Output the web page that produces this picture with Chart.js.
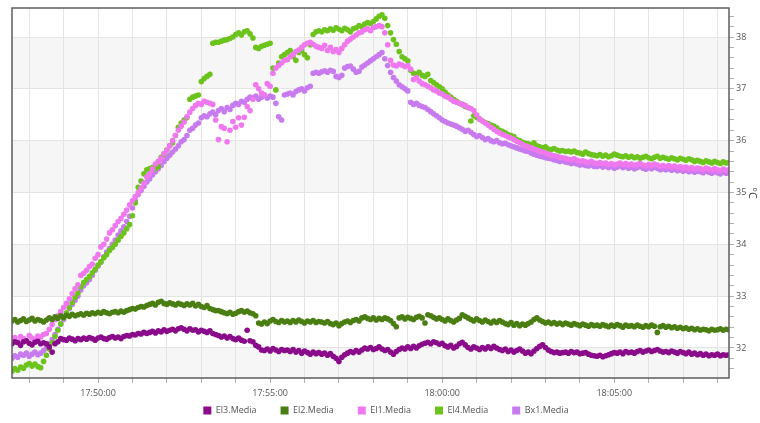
<!DOCTYPE html>
<html>
<head>
<meta charset="utf-8">
<title>Media temperature</title>
<script src="https://cdn.jsdelivr.net/npm/chart.js@4/dist/chart.umd.min.js"></script>
<style>
  html, body { margin: 0; padding: 0; background: #ffffff; }
  canvas { display: block; }
</style>
</head>
<body>
<canvas id="chart" width="760" height="423"></canvas>
<script>
// Series, one reading every 5 seconds starting at firstSample
const seriesNames = ['El3.Media', 'El2.Media', 'El1.Media', 'El4.Media', 'Bx1.Media'];
const firstSample = '17:47:30';
const sampleSeconds = 5;
const xTickLabels = ['17:50:00', '17:55:00', '18:00:00', '18:05:00'];
const yTickLabels = [32, 33, 34, 35, 36, 37, 38];

// one row per minute
const el3Media = [
  32.08, 32.12, 32.10, 32.05, 32.12, 32.14, 32.09, 32.06, 32.11, 32.13, 32.08, 32.10,
  32.08, 32.02, 31.92, 32.08, 32.12, 32.18, 32.16, 32.15, 32.19, 32.17, 32.14, 32.18,
  32.16, 32.19, 32.17, 32.20, 32.18, 32.15, 32.19, 32.21, 32.18, 32.17, 32.20, 32.22,
  32.19, 32.21, 32.18, 32.22, 32.24, 32.23, 32.26, 32.25, 32.28, 32.27, 32.30, 32.28,
  32.30, 32.32, 32.29, 32.33, 32.31, 32.35, 32.32, 32.34, 32.36, 32.33, 32.37, 32.39,
  32.36, 32.33, 32.37, 32.34, 32.35, 32.31, 32.34, 32.32, 32.30, 32.33, 32.28, 32.26,
  32.24, 32.21, 32.23, 32.19, 32.22, 32.18, 32.16, 32.19, 32.15, 32.13, 32.34, 32.14,
  32.12, 32.05, 32.02, 31.96, 31.95, 31.98, 31.94, 31.99, 31.96, 31.93, 31.97, 31.95,
  31.96, 31.93, 31.97, 31.92, 31.95, 31.90, 31.94, 31.91, 31.88, 31.92, 31.89, 31.91,
  31.88, 31.90, 31.86, 31.89, 31.84, 31.80, 31.74, 31.82, 31.87, 31.90, 31.93, 31.91,
  31.95, 31.92, 31.96, 32.00, 31.98, 32.01, 31.97, 31.99, 32.02, 31.98, 31.95, 31.97,
  31.92, 31.88, 31.93, 31.97, 32.00, 31.98, 32.02, 31.99, 32.03, 32.00, 32.04, 32.07,
  32.09, 32.11, 32.08, 32.12, 32.10, 32.07, 32.09, 32.04, 32.02, 32.05, 32.00, 32.03,
  32.08, 32.11, 32.06, 32.01, 31.98, 32.02, 32.00, 31.97, 32.01, 31.98, 32.02, 31.99,
  32.03, 32.00, 31.97, 31.95, 31.98, 31.93, 31.96, 31.92, 31.95, 31.98, 31.94, 31.90,
  31.92, 31.89, 31.94, 31.99, 32.03, 32.06, 32.01, 31.96, 31.93, 31.91, 31.92, 31.90,
  31.91, 31.92, 31.90, 31.93, 31.91, 31.92, 31.89, 31.90, 31.91, 31.88, 31.86, 31.85,
  31.84, 31.86, 31.83, 31.85, 31.87, 31.89, 31.91, 31.90, 31.92, 31.89, 31.93, 31.91,
  31.92, 31.90, 31.93, 31.95, 31.92, 31.94, 31.96, 31.93, 31.95, 31.97, 31.94, 31.92,
  31.93, 31.91, 31.94, 31.92, 31.90, 31.93, 31.91, 31.89, 31.92, 31.88, 31.90, 31.87,
  31.89, 31.86, 31.88, 31.85, 31.87, 31.86, 31.88, 31.85, 31.87, 31.86, 31.87
];

const el2Media = [
  32.52, 32.55, 32.50, 32.53, 32.56, 32.51, 32.54, 32.57, 32.52, 32.55, 32.53, 32.50,
  32.54, 32.58, 32.55, 32.60, 32.57, 32.62, 32.59, 32.63, 32.61, 32.65, 32.62, 32.64,
  32.66, 32.63, 32.67, 32.65, 32.68, 32.66, 32.69, 32.67, 32.70, 32.68, 32.66, 32.69,
  32.70, 32.68, 32.71, 32.69, 32.72, 32.74, 32.76, 32.75, 32.78, 32.80, 32.79, 32.82,
  32.84, 32.86, 32.83, 32.88, 32.90, 32.86, 32.84, 32.87, 32.85, 32.83, 32.86, 32.84,
  32.82, 32.85, 32.83, 32.86, 32.81, 32.84, 32.80, 32.78, 32.82, 32.76, 32.74, 32.72,
  32.72, 32.70, 32.68, 32.66, 32.69, 32.65, 32.67, 32.70, 32.72, 32.69, 32.71, 32.68,
  32.66, 32.62, 32.48, 32.46, 32.50, 32.47, 32.52, 32.55, 32.51, 32.49, 32.53, 32.50,
  32.52, 32.49, 32.53, 32.50, 32.54, 32.51, 32.48, 32.52, 32.50, 32.53, 32.49, 32.51,
  32.50, 32.48, 32.51, 32.47, 32.45, 32.48, 32.43, 32.47, 32.50, 32.52, 32.49, 32.53,
  32.55, 32.52, 32.58, 32.60, 32.57, 32.55, 32.58, 32.54, 32.57, 32.55, 32.58, 32.56,
  32.53, 32.47, 32.41, 32.58, 32.60, 32.56, 32.59, 32.57, 32.55, 32.59, 32.61, 32.58,
  32.48, 32.64, 32.62, 32.59, 32.56, 32.58, 32.55, 32.52, 32.56, 32.53, 32.50, 32.54,
  32.57, 32.64, 32.61, 32.58, 32.55, 32.52, 32.56, 32.53, 32.50, 32.54, 32.51, 32.48,
  32.52, 32.49, 32.53, 32.50, 32.47, 32.45, 32.49, 32.44, 32.47, 32.43, 32.46, 32.44,
  32.47, 32.50, 32.55, 32.58, 32.54, 32.51, 32.48, 32.50, 32.47, 32.49, 32.46, 32.48,
  32.45, 32.48, 32.46, 32.44, 32.47, 32.45, 32.43, 32.46, 32.44, 32.42, 32.45, 32.43,
  32.44, 32.42, 32.45, 32.43, 32.41, 32.44, 32.42, 32.45, 32.43, 32.40, 32.44, 32.42,
  32.43, 32.41, 32.44, 32.42, 32.40, 32.43, 32.41, 32.44, 32.42, 32.30, 32.41, 32.43,
  32.40, 32.42, 32.39, 32.41, 32.38, 32.40, 32.37, 32.39, 32.36, 32.38, 32.35, 32.37,
  32.34, 32.36, 32.35, 32.33, 32.36, 32.34, 32.35, 32.37, 32.34, 32.36, 32.35
];

const el1Media = [
  32.15, 32.20, 32.13, 32.22, 32.18, 32.14, 32.24, 32.19, 32.16, 32.23, 32.21, 32.26,
  32.28, 32.36, 32.45, 32.55, 32.62, 32.70, 32.78, 32.86, 32.95, 33.05, 33.14, 33.22,
  33.40, 33.44, 33.50, 33.57, 33.62, 33.73, 33.80, 33.95, 34.00, 34.10, 34.22, 34.28,
  34.36, 34.44, 34.50, 34.58, 34.66, 34.76, 34.84, 34.92, 35.00, 35.08, 35.18, 35.30,
  35.36, 35.45, 35.55, 35.60, 35.66, 35.75, 35.82, 35.90, 36.00, 36.10, 36.20, 36.28,
  36.36, 36.46, 36.55, 36.62, 36.68, 36.72, 36.70, 36.76, 36.74, 36.72, 36.70, 36.40,
  36.02, 36.27, 36.24, 35.98, 36.20, 36.37, 36.26, 36.44, 36.30, 36.45, 36.66, 36.58,
  36.80, 37.08, 37.00, 36.92, 36.88, 37.10, 37.05, 37.30, 37.40, 37.45, 37.50, 37.55,
  37.56, 37.62, 37.66, 37.72, 37.75, 37.80, 37.85, 37.88, 37.90, 37.86, 37.82, 37.80,
  37.78, 37.84, 37.74, 37.80, 37.72, 37.76, 37.70, 37.78, 37.85, 37.92, 37.96, 38.00,
  38.04, 38.08, 38.10, 38.14, 38.16, 38.12, 38.18, 38.20, 38.22, 38.20, 38.08, 37.85,
  37.55, 37.46, 37.44, 37.48, 37.46, 37.43, 37.45, 37.38, 37.18, 37.22, 37.15, 37.10,
  37.08, 37.05, 37.02, 36.98, 36.96, 36.92, 36.90, 36.86, 36.84, 36.80, 36.76, 36.74,
  36.72, 36.70, 36.68, 36.64, 36.62, 36.58, 36.50, 36.42, 36.38, 36.34, 36.30, 36.26,
  36.22, 36.18, 36.15, 36.12, 36.10, 36.07, 36.05, 36.02, 35.99, 35.96, 35.93, 35.90,
  35.88, 35.86, 35.84, 35.82, 35.80, 35.78, 35.76, 35.74, 35.72, 35.71, 35.70, 35.68,
  35.67, 35.66, 35.64, 35.63, 35.65, 35.62, 35.60, 35.61, 35.59, 35.58, 35.60, 35.57,
  35.56, 35.58, 35.55, 35.57, 35.54, 35.56, 35.53, 35.55, 35.57, 35.54, 35.56, 35.53,
  35.55, 35.52, 35.54, 35.56, 35.53, 35.51, 35.54, 35.52, 35.55, 35.53, 35.50, 35.52,
  35.50, 35.52, 35.49, 35.51, 35.48, 35.50, 35.47, 35.49, 35.46, 35.48, 35.45, 35.47,
  35.46, 35.44, 35.47, 35.45, 35.43, 35.46, 35.44, 35.42, 35.45, 35.43, 35.44
];

const el4Media = [
  31.55, 31.60, 31.57, 31.63, 31.61, 31.67, 31.70, 31.65, 31.69, 31.64, 31.62, 31.74,
  31.86, 31.98, 32.10, 32.22, 32.34, 32.46, 32.58, 32.68, 32.78, 32.88, 32.98, 33.06,
  33.18, 33.26, 33.32, 33.38, 33.45, 33.52, 33.60, 33.66, 33.74, 33.80, 33.88, 33.94,
  34.00, 34.08, 34.15, 34.22, 34.30, 34.38, 34.55, 34.80, 35.10, 35.22, 35.36, 35.44,
  35.46, 35.48, 35.46, 35.50, 35.68, 35.74, 35.82, 35.90, 35.96, 36.10, 36.26, 36.34,
  36.40, 36.44, 36.80, 36.84, 36.86, 36.88, 37.14, 37.20, 37.24, 37.28, 37.88, 37.90,
  37.90, 37.92, 37.94, 37.95, 37.97, 38.00, 38.05, 38.08, 38.04, 38.10, 38.12, 38.06,
  37.98, 37.80, 37.78, 37.82, 37.84, 37.86, 37.88, 37.40, 36.98, 37.50, 37.62, 37.66,
  37.70, 37.74, 37.62, 37.55, 37.70, 37.74, 37.66, 37.60, 37.85, 38.05, 38.10, 38.12,
  38.10, 38.14, 38.12, 38.16, 38.13, 38.18, 38.15, 38.12, 38.17, 38.14, 38.10, 38.16,
  38.18, 38.22, 38.20, 38.25, 38.28, 38.26, 38.30, 38.35, 38.40, 38.43, 38.36, 38.22,
  38.08, 37.95, 37.86, 37.72, 37.62, 37.58, 37.54, 37.36, 37.30, 37.28, 37.32, 37.26,
  37.24, 37.28, 37.16, 37.12, 37.08, 37.04, 37.00, 36.94, 36.88, 36.84, 36.80, 36.76,
  36.72, 36.70, 36.66, 36.64, 36.38, 36.48, 36.45, 36.42, 36.38, 36.35, 36.33, 36.30,
  36.28, 36.25, 36.20, 36.18, 36.15, 36.12, 36.10, 36.08, 36.02, 36.00, 35.97, 35.95,
  35.94, 35.92, 35.96, 35.90, 35.88, 35.86, 35.88, 35.84, 35.83, 35.85, 35.82, 35.80,
  35.81, 35.79, 35.80, 35.78, 35.80, 35.77, 35.76, 35.74, 35.78, 35.75, 35.73, 35.72,
  35.71, 35.73, 35.70, 35.72, 35.69, 35.71, 35.74, 35.72, 35.70, 35.69, 35.71, 35.68,
  35.70, 35.67, 35.69, 35.66, 35.68, 35.70, 35.67, 35.65, 35.68, 35.70, 35.66, 35.68,
  35.66, 35.64, 35.67, 35.65, 35.63, 35.66, 35.64, 35.62, 35.65, 35.63, 35.60, 35.62,
  35.60, 35.58, 35.61, 35.59, 35.57, 35.60, 35.58, 35.56, 35.59, 35.57, 35.58
];

const bx1Media = [
  31.80, 31.85, 31.82, 31.88, 31.86, 31.90, 31.84, 31.88, 31.92, 31.87, 31.90, 31.95,
  32.00, 32.08, 32.16, 32.26, 32.36, 32.46, 32.55, 32.66, 32.76, 32.84, 32.92, 33.00,
  33.12, 33.20, 33.26, 33.32, 33.40, 33.50, 33.58, 33.66, 33.76, 33.85, 33.92, 34.00,
  34.08, 34.18, 34.26, 34.34, 34.44, 34.54, 34.70, 34.84, 34.96, 35.04, 35.12, 35.20,
  35.26, 35.34, 35.40, 35.46, 35.52, 35.60, 35.66, 35.72, 35.78, 35.84, 35.90, 35.98,
  36.02, 36.10, 36.20, 36.24, 36.30, 36.34, 36.44, 36.48, 36.46, 36.52, 36.55, 36.50,
  36.58, 36.62, 36.56, 36.64, 36.60, 36.68, 36.72, 36.70, 36.76, 36.74, 36.80, 36.84,
  36.82, 36.86, 36.80, 36.84, 36.88, 36.82, 36.86, 36.84, 36.72, 36.46, 36.40, 36.88,
  36.90, 36.92, 36.88, 36.95, 36.98, 37.00, 36.96, 37.02, 37.05, 37.30, 37.32, 37.30,
  37.33, 37.35, 37.32, 37.36, 37.34, 37.24, 37.22, 37.26, 37.40, 37.43, 37.44, 37.38,
  37.32, 37.34, 37.42, 37.46, 37.50, 37.54, 37.58, 37.62, 37.66, 37.70, 37.58, 37.45,
  37.32, 37.22, 37.15, 37.08, 37.04, 37.00, 36.96, 36.74, 36.70, 36.72, 36.68, 36.66,
  36.64, 36.60, 36.56, 36.52, 36.48, 36.44, 36.40, 36.37, 36.34, 36.32, 36.30, 36.28,
  36.25, 36.22, 36.18, 36.20, 36.16, 36.12, 36.08, 36.10, 36.06, 36.02, 36.04, 36.00,
  35.98, 36.00, 35.96, 35.94, 35.95, 35.92, 35.90, 35.88, 35.86, 35.84, 35.82, 35.80,
  35.79, 35.76, 35.74, 35.72, 35.70, 35.69, 35.67, 35.66, 35.65, 35.63, 35.62, 35.60,
  35.61, 35.59, 35.58, 35.56, 35.57, 35.55, 35.53, 35.54, 35.52, 35.51, 35.53, 35.50,
  35.50, 35.52, 35.49, 35.51, 35.48, 35.50, 35.47, 35.49, 35.51, 35.48, 35.50, 35.47,
  35.49, 35.46, 35.48, 35.50, 35.47, 35.45, 35.48, 35.46, 35.49, 35.47, 35.44, 35.46,
  35.44, 35.46, 35.43, 35.45, 35.42, 35.44, 35.41, 35.43, 35.40, 35.42, 35.39, 35.41,
  35.40, 35.38, 35.41, 35.39, 35.37, 35.40, 35.38, 35.36, 35.39, 35.37, 35.38
];

const seriesValues = [el3Media, el2Media, el1Media, el4Media, bx1Media];
const seriesColors = ['#8a0c8a', '#4a7e12', '#ef78ef', '#6cc31c', '#c77bef'];

function toSeconds(hms) {
  const [h, m, s] = hms.split(':').map(Number);
  return h * 3600 + m * 60 + s;
}

const t0 = toSeconds(firstSample);
const xMin = toSeconds('17:47:30');
const xMax = toSeconds('18:08:20');
const yMin = 31.42;
const yMax = 38.56;
const labelledDegrees = new Set(yTickLabels);

// plot box bottom edge in canvas pixels; the time axis band is sized to land there
const plotBottom = 378;
let xAxisHeight = 20;

const datasets = seriesNames.map((name, k) => ({
  label: name,
  data: seriesValues[k].map((v, i) => ({ x: t0 + i * sampleSeconds, y: v })),
  backgroundColor: seriesColors[k],
  borderColor: seriesColors[k],
  borderWidth: 0,
  pointBackgroundColor: seriesColors[k],
  pointBorderWidth: 0,
  pointRadius: 2.8,
  pointHoverRadius: 2.8,
  showLine: false,
  clip: 0
}));

// alternate shaded bands between whole degrees, a frame round the plot,
// and the clock labels under the time axis
const plotDecor = {
  id: 'plotDecor',
  beforeDraw(chart) {
    const { ctx, chartArea: a, scales: { y } } = chart;
    ctx.save();
    ctx.fillStyle = '#f6f6f6';
    for (let n = Math.floor(y.min); n < y.max; n++) {
      if (Math.abs(n % 2) !== 1) continue;
      const lo = Math.max(n, y.min), hi = Math.min(n + 1, y.max);
      const top = y.getPixelForValue(hi), bottom = y.getPixelForValue(lo);
      ctx.fillRect(a.left, top, a.right - a.left, bottom - top);
    }
    ctx.restore();
  },
  afterDraw(chart) {
    const { ctx, chartArea: a, scales: { x } } = chart;
    ctx.save();
    ctx.strokeStyle = '#5e5e5e';
    ctx.lineWidth = 1.5;
    ctx.strokeRect(a.left, a.top, a.right - a.left, a.bottom - a.top);
    ctx.fillStyle = '#555555';
    ctx.font = "9px 'Open Sans', 'Liberation Sans', sans-serif";
    ctx.textAlign = 'center';
    ctx.textBaseline = 'middle';
    for (const label of xTickLabels) {
      ctx.fillText(label, x.getPixelForValue(toSeconds(label)), a.bottom + 15);
    }
    ctx.restore();
  }
};

Chart.defaults.font.family = "'Open Sans', 'Liberation Sans', sans-serif";
Chart.defaults.font.size = 9;
Chart.defaults.color = '#555555';

const chart = new Chart(document.getElementById('chart'), {
  type: 'scatter',
  data: { datasets },
  plugins: [plotDecor],
  options: {
    responsive: false,
    animation: false,
    events: [],
    layout: { padding: { left: 12, top: 8, right: 0, bottom: -2 } },
    plugins: {
      tooltip: { enabled: false },
      legend: {
        position: 'bottom',
        labels: { boxWidth: 8, boxHeight: 8, padding: 24, color: '#555555', font: { size: 9 } }
      }
    },
    scales: {
      x: {
        type: 'linear',
        min: xMin,
        max: xMax,
        afterBuildTicks(scale) {
          const ticks = [];
          for (let s = Math.ceil(scale.min / 60) * 60; s <= scale.max; s += 60) ticks.push({ value: s });
          scale.ticks = ticks;
        },
        afterFit(scale) { scale.height = xAxisHeight; },
        ticks: { display: false },
        grid: { color: '#e4e4e4', lineWidth: 1, tickLength: 5, tickColor: '#b0b0b0' },
        border: { display: false }
      },
      y: {
        position: 'right',
        min: yMin,
        max: yMax,
        afterBuildTicks(scale) {
          const ticks = [];
          for (let k = Math.ceil(scale.min * 5); k <= Math.floor(scale.max * 5); k++) ticks.push({ value: k / 5 });
          scale.ticks = ticks;
        },
        afterFit(scale) { scale.width = 31; },
        ticks: {
          autoSkip: false,
          padding: 2,
          color: '#555555',
          callback: (v) => {
            const r = Math.round(v);
            return (Math.abs(v - r) < 1e-6 && labelledDegrees.has(r)) ? String(r) : '';
          }
        },
        grid: {
          lineWidth: 1,
          tickLength: 5,
          tickColor: '#b0b0b0',
          color: (c) => {
            const v = c.tick ? c.tick.value : 0;
            return Math.abs(v - Math.round(v)) < 1e-6 ? '#e4e4e4' : 'rgba(0,0,0,0)';
          }
        },
        border: { display: false },
        title: { display: true, text: '°C', color: '#444444', font: { size: 11 }, padding: { top: 1, bottom: 0 } }
      }
    }
  }
});

// settle the time axis band so the plot box ends at plotBottom
for (let pass = 0; pass < 3; pass++) {
  const shift = chart.chartArea.bottom - plotBottom;
  if (Math.abs(shift) < 0.5) break;
  xAxisHeight = Math.max(0, xAxisHeight + shift);
  chart.update();
}
</script>
</body>
</html>
